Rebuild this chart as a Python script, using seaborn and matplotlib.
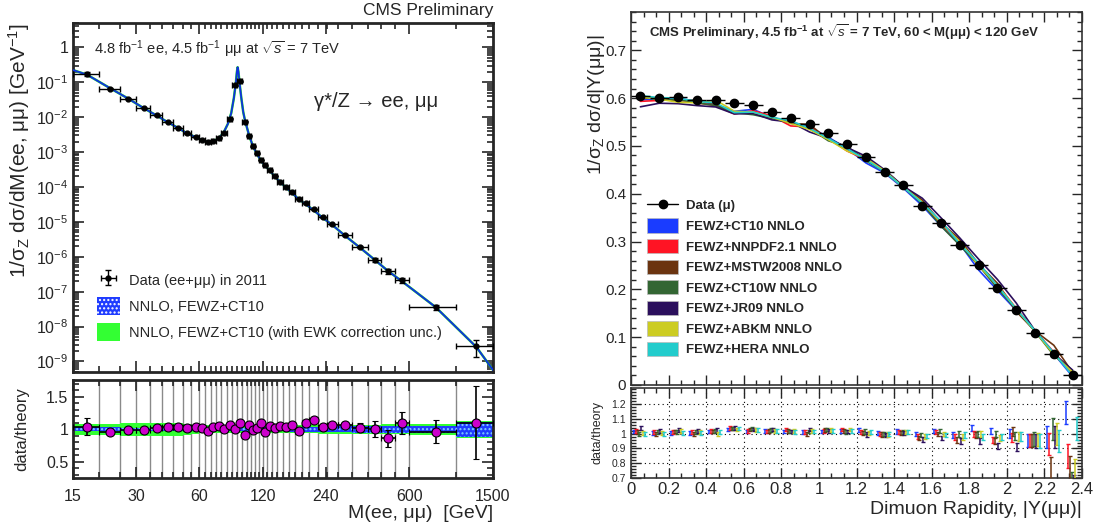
import numpy as np
import pandas as pd
import seaborn as sns
import matplotlib
matplotlib.use("Agg")
import matplotlib.pyplot as plt
from matplotlib.patches import Patch
from matplotlib.lines import Line2D
from matplotlib.ticker import FixedLocator, FuncFormatter, LogLocator, MultipleLocator, NullFormatter

sns.set_style("ticks")
plt.rcParams["font.family"] = ["Liberation Sans", "DejaVu Sans"]
plt.rcParams["mathtext.fontset"] = "custom"
plt.rcParams["mathtext.rm"] = "Liberation Sans"
plt.rcParams["mathtext.it"] = "Liberation Sans:italic"
plt.rcParams["mathtext.bf"] = "Liberation Sans:bold"

# ---- left: mass spectrum ----
mass_edges = [15, 20, 25, 30, 35, 40, 45, 50, 55, 60, 64, 68, 72, 76, 81, 86, 91, 96, 101, 106,
              110, 115, 120, 126, 133, 141, 150, 160, 171, 185, 200, 220, 243, 273, 320, 380,
              440, 510, 600, 1000, 1500]
mass_xsec = [0.172, 0.0656, 0.0339, 0.0182, 0.0113, 0.00724, 0.00501, 0.00344, 0.00276, 0.00221,
             0.00199, 0.00212, 0.00259, 0.0035, 0.00906, 0.0815, 0.106, 0.00743, 0.00295, 0.00146,
             9.2e-4, 5.9e-4, 4.16e-4, 2.99e-4, 2.05e-4, 1.4e-4, 9.9e-5, 7.1e-5, 4.6e-5, 3.39e-5,
             2.28e-5, 1.37e-5, 8.5e-6, 4.19e-6, 1.86e-6, 8.3e-7, 3.8e-7, 2.15e-7, 3.6e-8, 2.76e-9]
mass_ratio = [1.04, 0.965, 0.995, 0.995, 1.02, 1.03, 1.03, 1.025, 1.03, 1.02,
              0.975, 1.03, 1.05, 1.0, 1.065, 1.0, 1.09, 0.91, 1.07, 0.995,
              1.02, 1.09, 0.965, 1.05, 1.02, 1.05, 1.04, 1.06, 0.97, 1.09,
              1.14, 1.04, 1.06, 1.065, 1.025, 1.005, 0.865, 1.095, 0.965, 1.1]
mass_ratio_err = [0.13, 0.03, 0.02, 0.02, 0.02, 0.02, 0.02, 0.02, 0.02, 0.02,
                  0.025, 0.02, 0.02, 0.02, 0.02, 0.02, 0.02, 0.04, 0.02, 0.02,
                  0.02, 0.02, 0.02, 0.025, 0.02, 0.02, 0.03, 0.03, 0.03, 0.03,
                  0.03, 0.04, 0.05, 0.05, 0.07, 0.12, 0.13, 0.17, 0.18, 0.56]
ewk_band = [0.08, 0.08, 0.1, 0.1, 0.1, 0.1, 0.1, 0.08, 0.07, 0.06,
            0.06, 0.055, 0.05, 0.05, 0.05, 0.05, 0.05, 0.05, 0.05, 0.05,
            0.05, 0.05, 0.05, 0.05, 0.05, 0.05, 0.05, 0.055, 0.06, 0.06,
            0.06, 0.065, 0.07, 0.07, 0.07, 0.07, 0.075, 0.075, 0.08, 0.13]
pdf_band = [0.03, 0.03, 0.02, 0.02, 0.02, 0.02, 0.02, 0.02, 0.02, 0.02,
            0.02, 0.02, 0.02, 0.02, 0.02, 0.02, 0.02, 0.02, 0.025, 0.025,
            0.025, 0.025, 0.03, 0.03, 0.03, 0.03, 0.03, 0.035, 0.035, 0.04,
            0.04, 0.04, 0.045, 0.045, 0.05, 0.05, 0.05, 0.055, 0.055, 0.12]
theory_mass = [15, 17.5, 22.5, 27.5, 32.5, 37.5, 42.5, 47.5, 52.5, 57.5, 62, 66, 70, 74, 78, 82,
               85, 87.5, 89.5, 90.5, 91.2, 92, 93.5, 95, 97, 99, 103.5, 108, 112.5, 117.5, 123,
               129.5, 137, 145.5, 155, 165.5, 178, 192.5, 210, 231.5, 258, 296.5, 350, 410, 475,
               555, 800, 1250, 1500]
theory_val = [0.224, 0.165, 0.068, 0.034, 0.0183, 0.0112, 0.0071, 0.0049, 0.0034, 0.0027, 0.00215,
              0.002, 0.00205, 0.0025, 0.0035, 0.0065, 0.013, 0.035, 0.10, 0.20, 0.27, 0.20, 0.08,
              0.035, 0.014, 0.0078, 0.003, 0.00145, 9.0e-4, 5.8e-4, 4.1e-4, 3.0e-4, 2.0e-4,
              1.38e-4, 9.6e-5, 6.8e-5, 4.5e-5, 3.2e-5, 2.15e-5, 1.32e-5, 8.1e-6, 4.0e-6, 1.8e-6,
              8.2e-7, 3.9e-7, 1.95e-7, 3.6e-8, 2.6e-9, 5.7e-10]

# ---- right: rapidity ----
rap_edges = [0.0, 0.1, 0.2, 0.3, 0.4, 0.5, 0.6, 0.7, 0.8, 0.9, 1.0, 1.1, 1.2,
             1.3, 1.4, 1.5, 1.6, 1.7, 1.8, 1.9, 2.0, 2.1, 2.2, 2.3, 2.4]
rap_xsec = [0.605, 0.601, 0.603, 0.596, 0.596, 0.5895, 0.585, 0.571, 0.558, 0.545, 0.526, 0.504,
            0.476, 0.4455, 0.4175, 0.375, 0.339, 0.292, 0.250, 0.202, 0.156, 0.108, 0.064, 0.020]
pdf_names = ["FEWZ+CT10 NNLO", "FEWZ+NNPDF2.1 NNLO", "FEWZ+MSTW2008 NNLO", "FEWZ+CT10W NNLO",
             "FEWZ+JR09 NNLO", "FEWZ+ABKM NNLO", "FEWZ+HERA NNLO"]
pdf_colors = ["#1a3cff", "#ff1424", "#6b3410", "#336633", "#2b0f5c", "#cccc22", "#22cccc"]
ratio_ct10 = [1.015, 1.005, 1.005, 1.005, 1.015, 1.03, 1.015, 1.02, 1.015, 1.01, 1.015, 1.02,
              1.025, 1.005, 1.015, 1.0, 1.02, 0.99, 1.04, 1.02, 1.0, 0.955, 0.98, 1.145]
ratio_nnpdf = [1.02, 1.01, 1.01, 1.01, 1.02, 1.04, 1.02, 1.015, 1.03, 1.01, 1.02, 1.03,
               1.01, 1.0, 1.01, 0.98, 1.01, 0.975, 1.0, 0.96, 0.975, 0.955, 0.93, 0.85]
ratio_mstw = [1.01, 1.0, 1.015, 1.0, 1.015, 1.035, 1.03, 1.02, 1.02, 1.0, 1.025, 1.02,
              1.005, 0.995, 1.005, 0.97, 1.0, 0.96, 0.99, 0.95, 1.015, 0.955, 0.77, 0.77]
ratio_ct10w = [1.0, 1.01, 1.01, 1.01, 1.02, 1.035, 1.035, 1.025, 1.015, 1.015, 1.03, 1.01,
               1.015, 1.0, 1.01, 0.99, 1.02, 1.0, 1.0, 1.0, 0.985, 0.965, 1.035, 0.66]
ratio_jr09 = [1.04, 1.02, 1.025, 1.02, 1.025, 1.04, 1.03, 1.03, 1.015, 1.03, 1.02, 1.015,
              0.995, 0.99, 1.005, 0.96, 0.97, 0.95, 0.95, 0.915, 0.91, 0.95, 0.98, 0.64]
ratio_abkm = [1.005, 1.005, 1.02, 1.01, 1.0, 1.03, 1.025, 1.02, 1.02, 1.02, 1.025, 1.03,
              1.005, 0.995, 1.01, 0.98, 1.0, 0.975, 1.0, 0.97, 0.98, 0.96, 1.0, 0.75]
ratio_hera = [1.0, 1.0, 1.005, 1.005, 1.01, 1.035, 1.025, 1.02, 1.01, 1.015, 1.02, 1.02,
              1.01, 1.0, 1.01, 0.985, 0.99, 0.99, 0.98, 0.975, 0.98, 0.95, 0.95, 1.035]
rap_ratio_err = [0.012, 0.012, 0.012, 0.012, 0.012, 0.012, 0.012, 0.012, 0.012, 0.012, 0.012, 0.012,
                 0.015, 0.015, 0.015, 0.015, 0.015, 0.02, 0.02, 0.02, 0.03, 0.045, 0.075, 0.08]
pdf_ratios = [ratio_ct10, ratio_nnpdf, ratio_mstw, ratio_ct10w, ratio_jr09, ratio_abkm, ratio_hera]

W, H = 1096, 527
fig = plt.figure(figsize=(W / 100, H / 100), dpi=100)


def box(l, t, r, b):
    return [l / W, 1 - b / H, (r - l) / W, (b - t) / H]


axL = fig.add_axes(box(73, 23, 493, 372))
axLr = fig.add_axes(box(73, 380, 493, 478), sharex=axL)
axR = fig.add_axes(box(631, 12, 1082, 385))
axRr = fig.add_axes(box(631, 388, 1082, 478), sharex=axR)

edges = np.array(mass_edges, dtype=float)
centers = (edges[:-1] + edges[1:]) / 2
xs = np.array(mass_xsec)
rat = np.array(mass_ratio)
rerr = np.array(mass_ratio_err)

# left main
axL.set_xscale("log")
axL.set_yscale("log")
sns.lineplot(x=theory_mass, y=theory_val, color="#22dd22", lw=1.8, ax=axL, zorder=2)
sns.lineplot(x=theory_mass, y=theory_val, color="#1030e0", lw=1.3, ax=axL, zorder=3)
axL.errorbar(centers, xs, xerr=[centers - edges[:-1], edges[1:] - centers],
             yerr=xs * rerr / rat, fmt="o", color="black", ms=3.5, elinewidth=1,
             capsize=2.5, zorder=4, label="Data (ee+μμ) in 2011")
axL.set_xlim(15, 1500)
axL.set_ylim(5e-10, 5)
axL.yaxis.set_major_locator(LogLocator(base=10, numticks=20))
axL.yaxis.set_minor_locator(LogLocator(base=10, subs=np.arange(2, 10), numticks=20))
axL.yaxis.set_major_formatter(FuncFormatter(
    lambda v, p: "1" if abs(v - 1) < 1e-9 else r"$10^{%d}$" % round(np.log10(v))))
axL.set_ylabel("1/σ$_\\mathrm{Z}$ dσ/dM(ee, μμ) [GeV$^{-1}$]", fontsize=15, loc="top")
axL.yaxis.set_label_coords(-0.098, 1.0)
handles = [axL.get_legend_handles_labels()[0][0],
           Patch(facecolor="#1f3cff", edgecolor="white", hatch="....", lw=0),
           Patch(facecolor="#33ff33", edgecolor="none")]
labels = ["Data (ee+μμ) in 2011", "NNLO, FEWZ+CT10",
          "NNLO, FEWZ+CT10 (with EWK correction unc.)"]
axL.legend(handles, labels, loc="lower left", bbox_to_anchor=(0.025, 0.05), frameon=False,
           fontsize=10.5, handlelength=1.6, handleheight=1.6, labelspacing=0.5,
           handletextpad=0.6)
axL.text(0.05, 0.925, r"4.8 fb$^{-1}$ ee, 4.5 fb$^{-1}$ μμ at $\sqrt{s}$ = 7 TeV",
         transform=axL.transAxes, fontsize=10.5, va="center")
axL.text(0.575, 0.775, "γ*/Z → ee, μμ", transform=axL.transAxes, fontsize=14.5, va="center")
fig.text(493 / W, 1 - 10 / H, "CMS Preliminary", ha="right", va="center", fontsize=12.5)

# left ratio
axLr.vlines(edges, 0.25, 1.76, color="#8a8a8a", lw=1, zorder=0.5)
axLr.fill_between(edges, 1 - np.append(ewk_band, ewk_band[-1]), 1 + np.append(ewk_band, ewk_band[-1]),
                  step="post", color="#33ff33", lw=0, zorder=1)
axLr.fill_between(edges, 1 - np.append(pdf_band, pdf_band[-1]), 1 + np.append(pdf_band, pdf_band[-1]),
                  step="post", facecolor="#1f3cff", edgecolor="#7fd0ff", hatch="....", lw=0, zorder=1.2)
axLr.errorbar(centers, rat, xerr=[centers - edges[:-1], edges[1:] - centers], yerr=rerr,
              fmt="o", mfc="#cc00cc", mec="black", mew=0.8, ms=6.5, ecolor="black",
              elinewidth=1.2, capsize=2.5, zorder=4)
axLr.set_ylim(0.25, 1.76)
axLr.yaxis.set_major_locator(FixedLocator([0.5, 1, 1.5]))
axLr.yaxis.set_minor_locator(MultipleLocator(0.1))
axLr.yaxis.set_major_formatter(FuncFormatter(lambda v, p: "%g" % v))
axLr.set_ylabel("data/theory", fontsize=12)
axLr.yaxis.set_label_coords(-0.105, 0.5)
axLr.xaxis.set_major_locator(FixedLocator([15, 30, 60, 120, 240, 600, 1500]))
axLr.xaxis.set_minor_locator(FixedLocator(mass_edges))
axLr.xaxis.set_major_formatter(FuncFormatter(lambda v, p: "%d" % v))
axLr.xaxis.set_minor_formatter(NullFormatter())
axLr.set_xlabel("M(ee, μμ)  [GeV]", fontsize=14, loc="right", labelpad=1)
plt.setp(axL.get_xticklabels(), visible=False)

for a in (axL, axLr):
    a.tick_params(which="both", direction="in", top=True, right=True, labelsize=11.5, width=1.2)
    a.tick_params(which="major", length=8)
    a.tick_params(which="minor", length=4)
    for s in a.spines.values():
        s.set_linewidth(2)
axLr.tick_params(axis="x", which="major", pad=8)

# right main
redges = np.array(rap_edges)
rcent = (redges[:-1] + redges[1:]) / 2
rxs = np.array(rap_xsec)
rows = []
for name, r in zip(pdf_names, pdf_ratios):
    for y, d, q in zip(rcent, rxs, r):
        rows.append({"Y": y, "val": d / q, "pdf": name})
theory_df = pd.DataFrame(rows)
sns.lineplot(data=theory_df, x="Y", y="val", hue="pdf", palette=pdf_colors, estimator=None,
             sort=False, lw=1.2, legend=False, ax=axR, zorder=2)
axR.errorbar(rcent, rxs, xerr=0.05, fmt="o", color="black", ms=6, elinewidth=1, zorder=4)
axR.set_xlim(0, 2.4)
axR.set_ylim(0, 0.78)
axR.yaxis.set_major_locator(MultipleLocator(0.1))
axR.yaxis.set_minor_locator(MultipleLocator(0.02))
axR.xaxis.set_major_locator(MultipleLocator(0.2))
axR.xaxis.set_minor_locator(MultipleLocator(0.2 / 3))
axR.yaxis.set_major_formatter(FuncFormatter(lambda v, p: "%g" % round(v, 2)))
axR.set_xlabel("")
axR.set_ylabel("1/σ$_\\mathrm{Z}$ dσ/d|Y(μμ)|", fontsize=14, loc="top")
axR.yaxis.set_label_coords(-0.053, 0.94)
plt.setp(axR.get_xticklabels(), visible=False)
axR.text(0.04, 0.945, r"CMS Preliminary, 4.5 fb$^{\mathbf{-1}}$ at $\sqrt{s}$ = 7 TeV, 60 < M(μμ) < 120 GeV",
         transform=axR.transAxes, fontsize=9.5, fontweight="bold", va="center")
rhandles = [Line2D([0], [0], color="black", marker="o", ms=6, lw=1)] + \
           [Patch(facecolor=c, edgecolor="#bbbbbb", lw=0.5) for c in pdf_colors]
axR.legend(rhandles, ["Data (μ)"] + pdf_names, loc="lower left", bbox_to_anchor=(0.01, 0.045),
           frameon=False, prop={"weight": "bold", "size": 9.5}, handlelength=2.3,
           handleheight=1.3, labelspacing=0.45, handletextpad=0.6)

# right ratio
axRr.grid(True, which="major", color="black", ls=(0, (1, 3)), lw=0.8)
for i, (r, c) in enumerate(zip(pdf_ratios, pdf_colors)):
    axRr.errorbar(redges[:-1] + 0.015 + 0.01 * i, r, yerr=rap_ratio_err, fmt="none", ecolor=c,
                  elinewidth=1.1, capsize=1.5, capthick=1, zorder=3)
axRr.set_ylim(0.7, 1.31)
axRr.yaxis.set_major_locator(FixedLocator([0.7, 0.8, 0.9, 1.0, 1.1, 1.2]))
axRr.yaxis.set_minor_locator(MultipleLocator(0.02))
axRr.yaxis.set_major_formatter(FuncFormatter(lambda v, p: "%g" % round(v, 2)))
axRr.xaxis.set_major_formatter(FuncFormatter(lambda v, p: "%g" % round(v, 2)))
axRr.set_ylabel("data/theory", fontsize=9)
axRr.yaxis.set_label_coords(-0.06, 0.5)
axRr.set_xlabel("Dimuon Rapidity, |Y(μμ)|", fontsize=14, loc="right", labelpad=3)

for a in (axR, axRr):
    a.tick_params(which="both", direction="in", top=True, right=True, width=1)
    a.tick_params(which="major", length=7)
    a.tick_params(which="minor", length=3.5)
    for s in a.spines.values():
        s.set_linewidth(1.2)
        s.set_color("#333333")
axR.tick_params(labelsize=11)
axRr.tick_params(axis="y", labelsize=7.5)
axRr.tick_params(axis="x", labelsize=12, pad=3)

fig.savefig("out.png", dpi=100)
